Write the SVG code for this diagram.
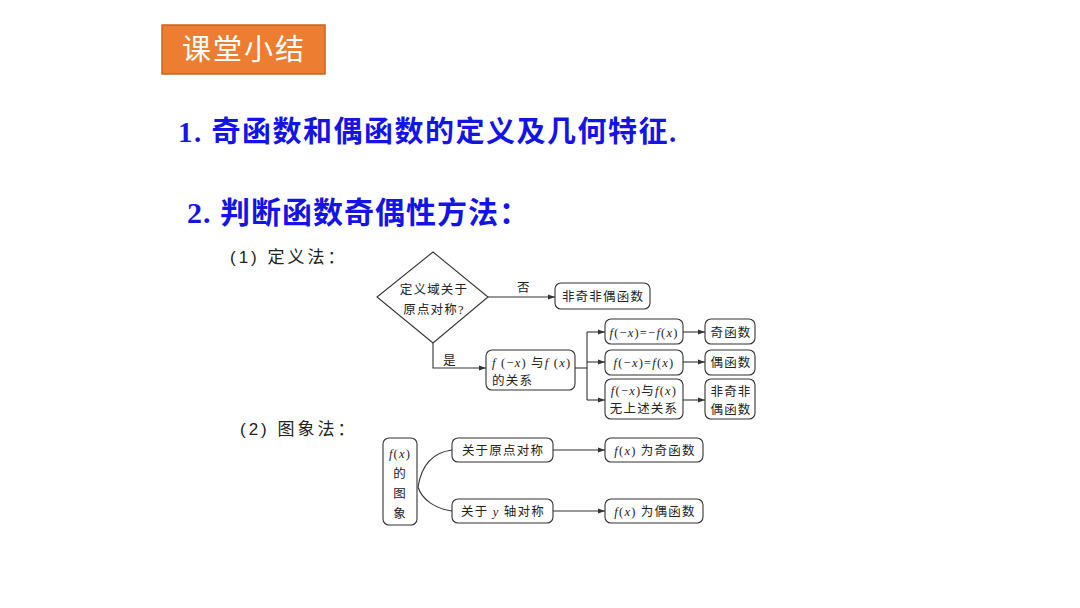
<svg xmlns="http://www.w3.org/2000/svg" width="1080" height="608" viewBox="0 0 1080 608">
<style>
.h{font-family:"Liberation Serif","Noto Sans CJK SC",serif;font-weight:bold;fill:#1414e6}
.s{font-family:"Liberation Sans","Noto Sans CJK SC",sans-serif;font-size:17px;fill:#222;letter-spacing:3px}
.t{font-family:"Liberation Serif","Noto Sans CJK SC",serif;font-size:12.5px;fill:#222;letter-spacing:1.2px}
.i{font-style:italic}
.b{fill:#fff;stroke:#333;stroke-width:1.1}
.c{fill:none;stroke:#333;stroke-width:1.1}
</style>
<defs>
<marker id="a" viewBox="0 0 10 10" refX="10" refY="5" markerWidth="7" markerHeight="7" orient="auto" markerUnits="userSpaceOnUse">
<path d="M0,1.5 L10,5 L0,8.5 z" fill="#333"/>
</marker>
</defs>
<rect width="1080" height="608" fill="#fff"/>
<g id="title">
<rect x="162" y="25" width="163" height="49" fill="#ED7D31" stroke="#C9641F" stroke-width="1.5"/>
<text x="244" y="60" text-anchor="middle" font-family="Noto Sans CJK SC, sans-serif" font-size="29" fill="#fff" letter-spacing="2">课堂小结</text>
</g>
<text class="h" x="178" y="142" font-size="29" letter-spacing="1.5">1. 奇函数和偶函数的定义及几何特征.</text>
<text class="h" x="187" y="223" font-size="30" letter-spacing="1">2. 判断函数奇偶性方法：</text>
<text class="s" x="230" y="263">(1) 定义法：</text>
<text class="s" x="240" y="435">(2) 图象法：</text>
<g id="connectors">
<path class="c" d="M488,297 H555" marker-end="url(#a)"/>
<path class="c" d="M433,343 V368 H486" marker-end="url(#a)"/>
<path class="c" d="M575,368 H587"/>
<path class="c" d="M587,332 V400"/>
<path class="c" d="M587,332 H605" marker-end="url(#a)"/>
<path class="c" d="M587,362 H605" marker-end="url(#a)"/>
<path class="c" d="M587,400 H605" marker-end="url(#a)"/>
<path class="c" d="M683,332 H705" marker-end="url(#a)"/>
<path class="c" d="M683,362 H705" marker-end="url(#a)"/>
<path class="c" d="M683,400 H705" marker-end="url(#a)"/>
<path class="c" d="M418,487 C422,462 436,452 452,450"/>
<path class="c" d="M418,487 C422,500 436,509 452,511"/>
<path class="c" d="M553,450 H605" marker-end="url(#a)"/>
<path class="c" d="M553,511 H605" marker-end="url(#a)"/>
<text class="t" x="517" y="292" font-size="11">否</text>
<text class="t" x="443" y="365" font-size="11">是</text>
</g>
<g id="n-diamond">
<polygon class="b" points="433,252 488,297 433,343 377,297"/>
<text class="t" x="434" y="294" text-anchor="middle">定义域关于</text>
<text class="t" x="434" y="314" text-anchor="middle">原点对称?</text>
</g>
<g id="n-neither1">
<rect class="b" x="555" y="283" width="95" height="26" rx="6"/>
<text class="t" x="603" y="301" text-anchor="middle">非奇非偶函数</text>
</g>
<g id="n-relation">
<rect class="b" x="486" y="350" width="89" height="40" rx="6"/>
<text class="t" x="492" y="367"><tspan class="i">f</tspan> (−<tspan class="i">x</tspan>) 与<tspan class="i">f</tspan> (<tspan class="i">x</tspan>)</text>
<text class="t" x="492" y="385">的关系</text>
</g>
<g id="n-odd-rel">
<rect class="b" x="605" y="319" width="78" height="25" rx="6"/>
<text class="t" x="644" y="337" text-anchor="middle" letter-spacing="0"><tspan class="i">f</tspan>(−<tspan class="i">x</tspan>)=−<tspan class="i">f</tspan>(<tspan class="i">x</tspan>)</text>
</g>
<g id="n-even-rel">
<rect class="b" x="605" y="350" width="78" height="25" rx="6"/>
<text class="t" x="644" y="367" text-anchor="middle" letter-spacing="0"><tspan class="i">f</tspan>(−<tspan class="i">x</tspan>)=<tspan class="i">f</tspan>(<tspan class="i">x</tspan>)</text>
</g>
<g id="n-none-rel">
<rect class="b" x="605" y="379" width="78" height="40" rx="6"/>
<text class="t" x="644" y="395" text-anchor="middle" letter-spacing="0"><tspan class="i">f</tspan>(−<tspan class="i">x</tspan>)与<tspan class="i">f</tspan>(<tspan class="i">x</tspan>)</text>
<text class="t" x="644" y="413" text-anchor="middle">无上述关系</text>
</g>
<g id="n-odd">
<rect class="b" x="705" y="319" width="50" height="25" rx="6"/>
<text class="t" x="731" y="337" text-anchor="middle">奇函数</text>
</g>
<g id="n-even">
<rect class="b" x="705" y="350" width="50" height="25" rx="6"/>
<text class="t" x="731" y="367" text-anchor="middle">偶函数</text>
</g>
<g id="n-neither2">
<rect class="b" x="705" y="379" width="50" height="40" rx="6"/>
<text class="t" x="731" y="396" text-anchor="middle">非奇非</text>
<text class="t" x="731" y="414" text-anchor="middle">偶函数</text>
</g>
<g id="n-graph">
<rect class="b" x="383" y="438" width="34" height="87" rx="6"/>
<text class="t" x="400" y="458" text-anchor="middle" letter-spacing="0"><tspan class="i">f</tspan>(<tspan class="i">x</tspan>)</text>
<text class="t" x="400" y="478" text-anchor="middle" letter-spacing="0">的</text>
<text class="t" x="400" y="498" text-anchor="middle" letter-spacing="0">图</text>
<text class="t" x="400" y="518" text-anchor="middle" letter-spacing="0">象</text>
</g>
<g id="n-origin">
<rect class="b" x="452" y="438" width="101" height="24" rx="6"/>
<text class="t" x="503" y="455" text-anchor="middle">关于原点对称</text>
</g>
<g id="n-yaxis">
<rect class="b" x="452" y="499" width="101" height="24" rx="6"/>
<text class="t" x="503" y="516" text-anchor="middle">关于 <tspan class="i">y</tspan> 轴对称</text>
</g>
<g id="n-oddf">
<rect class="b" x="605" y="438" width="98" height="24" rx="6"/>
<text class="t" x="655" y="455" text-anchor="middle"><tspan class="i">f</tspan>(<tspan class="i">x</tspan>) 为奇函数</text>
</g>
<g id="n-evenf">
<rect class="b" x="605" y="499" width="98" height="24" rx="6"/>
<text class="t" x="655" y="516" text-anchor="middle"><tspan class="i">f</tspan>(<tspan class="i">x</tspan>) 为偶函数</text>
</g>
</svg>
